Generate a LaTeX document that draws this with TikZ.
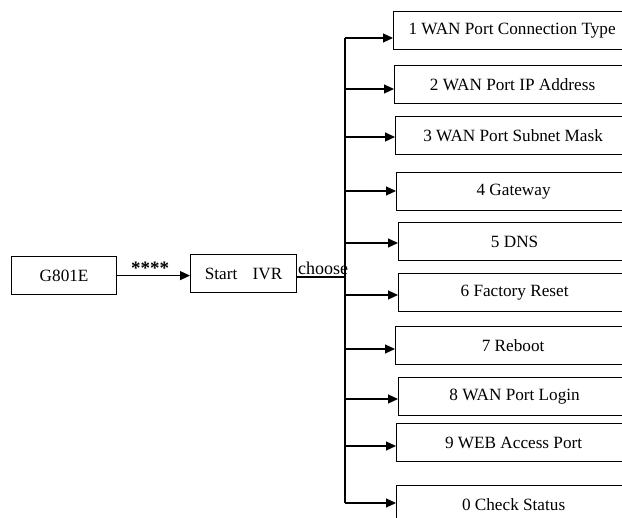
\documentclass[tikz,border=0pt]{standalone}
\usepackage{fontspec}
\setmainfont{Liberation Serif}
\usetikzlibrary{arrows.meta}
\begin{document}
\begin{tikzpicture}[x=1pt,y=-1pt,
  box/.style={draw,line width=1.2pt,minimum height=38pt,anchor=north west,inner sep=0pt,font=\fontsize{17.2}{19}\selectfont},
  arr/.style={line width=1.2pt,-{Triangle[length=10pt,width=9pt]}},
  ln/.style={line width=1.2pt},
  lbl/.style={inner sep=0pt,font=\fontsize{18}{20}\selectfont}]
\useasboundingbox (0,0) rectangle (622,518);
\clip (0,0) rectangle (622,518);
\foreach \n/\l/\t/\a/\s in {
  1/393/11/38/1 WAN Port Connection Type,
  2/394/65/89/2 WAN Port IP Address,
  3/395/116/137/3 WAN Port Subnet Mask,
  4/396/172/191/4 Gateway,
  5/398/222/243/5 DNS,
  6/398/273/295/6 Factory Reset,
  7/395/326/349/7 Reboot,
  8/398/377/399/8 WAN Port Login,
  9/396/423/446/9 WEB Access Port,
  0/396/485/503/0 Check Status}{
  \node[box,minimum width={630-\l}] (b\n) at (\l,\t) {\s};
  \coordinate (t\n) at (345,\a);
  \draw[arr] (t\n) -- (t\n -| b\n.west);
}
\draw[ln] (t1) -- (t0);
\node[box,minimum width=105pt] (g) at (11,256) {G801E};
\node[box,minimum width=106pt] (s) at (190,254) {Start\hspace{11pt} IVR};
\coordinate (j) at (345,277);
\draw[arr] (g.east) -- (g.east -| s.west);
\draw[ln] (s.east |- j) -- (j);
\node[lbl,font=\fontsize{19}{20}\selectfont\bfseries,anchor=south] (st) at (150,275) {****};
\node[lbl,anchor=base west] (ch) at (298,275) {choose};
\end{tikzpicture}
\end{document}
